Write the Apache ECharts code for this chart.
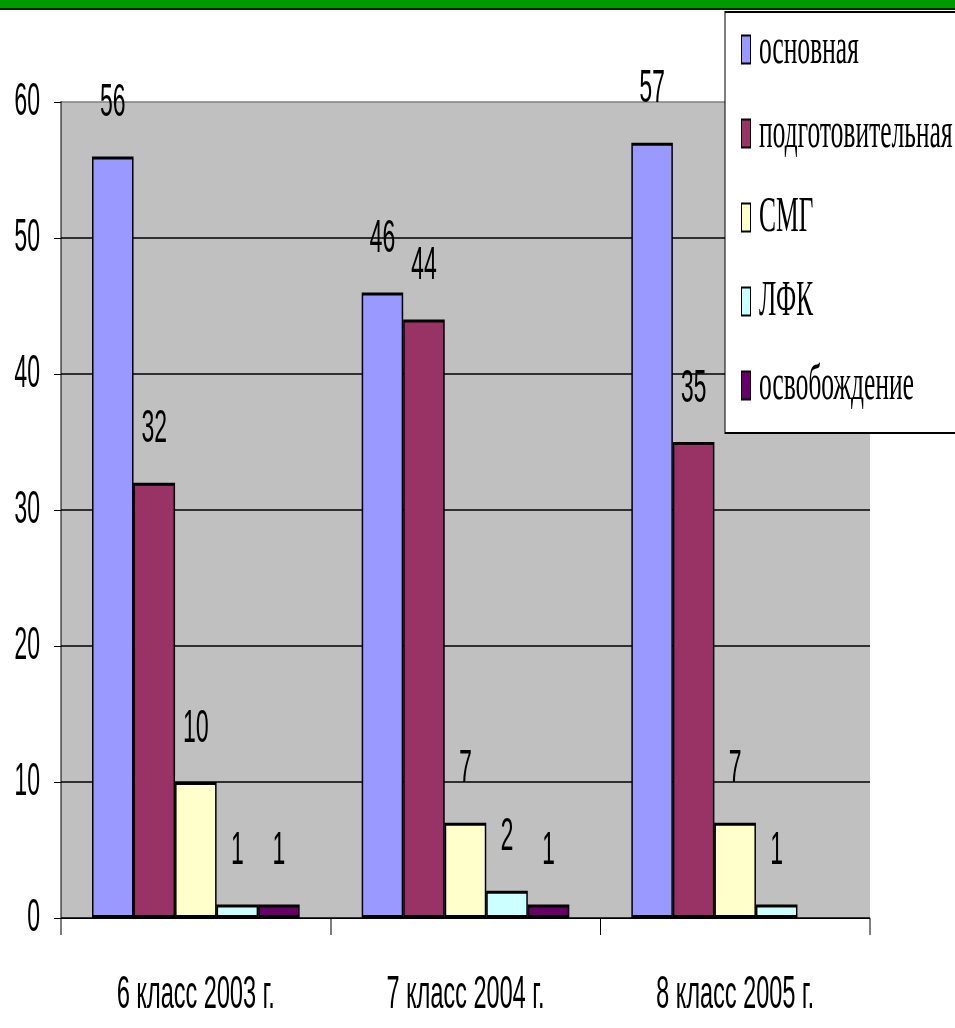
<!DOCTYPE html>
<html>
<head>
<meta charset="utf-8">
<script src="https://cdn.jsdelivr.net/npm/echarts@6/dist/echarts.min.js"></script>
<style>
  html, body { margin: 0; padding: 0; background: #fff; overflow: hidden; }
  #wrap { width: 955px; height: 1028px; overflow: hidden; position: relative; }
  /* the original slide has tall, condensed lettering: draw twice as wide and squeeze */
  #chart { width: 1910px; height: 1028px; transform: scaleX(0.5); transform-origin: 0 0; }
</style>
</head>
<body>
<div id="wrap"><div id="chart"></div></div>
<script>
  // classes / years
  const categories = ['6 класс 2003 г.', '7 класс 2004 г.', '8 класс 2005 г.']

  const seriesNames = ['основная', 'подготовительная', 'СМГ', 'ЛФК', 'освобождение']
  const osnovnaya = [56, 46, 57]
  const podgotovitelnaya = [32, 44, 35]
  const smg = [10, 7, 7]
  const lfk = [1, 2, 1]
  const osvobozhdenie = [1, 1, null]
  const seriesColors = ['#9999FF', '#993366', '#FFFFCC', '#CCFFFF', '#660066']

  const yTicks = [0, 10, 20, 30, 40, 50, 60]

  const sx = 2 // horizontal stretch, undone by the css transform
  const numFont = "'Liberation Sans', Arial, sans-serif"
  const serifFont = "'Liberation Serif', 'Times New Roman', serif"

  const chart = echarts.init(document.getElementById('chart'))

  const values = [osnovnaya, podgotovitelnaya, smg, lfk, osvobozhdenie]

  chart.setOption({
    animation: false,
    backgroundColor: '#fff',
    graphic: [
      { type: 'rect', shape: { x: 0, y: 0, width: 955 * sx, height: 8 }, style: { fill: '#009900' } },
      { type: 'rect', shape: { x: 0, y: 8, width: 955 * sx, height: 2 }, style: { fill: '#1a1a1a' } }
    ],
    grid: {
      left: 61 * sx,
      right: 85 * sx,
      top: 102,
      bottom: 110,
      show: true,
      backgroundColor: '#C0C0C0',
      borderWidth: 0
    },
    legend: {
      orient: 'vertical',
      left: 725 * sx,
      top: 12,
      backgroundColor: '#fff',
      borderColor: '#000',
      borderWidth: 2,
      padding: [12, 80, 22, 16 * sx],
      itemGap: 33,
      itemWidth: 9 * sx,
      itemHeight: 28,
      icon: 'rect',
      textStyle: {
        fontFamily: serifFont,
        fontSize: 51,
        color: '#000',
        padding: [12, 0, 0, 12]
      },
      data: seriesNames
    },
    xAxis: {
      type: 'category',
      data: categories,
      axisLine: { show: true, lineStyle: { color: '#000', width: 1 } },
      axisTick: { show: true, length: 17, lineStyle: { color: '#000', width: 2 } },
      axisLabel: {
        margin: 54,
        fontFamily: numFont,
        fontSize: 47,
        color: '#000'
      }
    },
    yAxis: {
      type: 'value',
      min: yTicks[0],
      max: yTicks[yTicks.length - 1],
      interval: 10,
      axisLine: { show: true, lineStyle: { color: '#000', width: 2 } },
      axisTick: { show: true, length: 7 * sx, lineStyle: { color: '#000' } },
      axisLabel: {
        margin: 21 * sx,
        fontFamily: numFont,
        fontSize: 46,
        color: '#000'
      },
      splitLine: {
        show: true,
        lineStyle: { color: ['#000', '#000', '#000', '#000', '#000', '#000', '#808080'], width: 1.5 }
      }
    },
    series: seriesNames.map(function (name, i) {
      return {
        name: name,
        type: 'bar',
        data: values[i],
        barGap: '0%',
        barCategoryGap: '23%',
        itemStyle: {
          color: seriesColors[i],
          borderColor: '#000',
          borderWidth: 3
        },
        label: {
          show: true,
          position: 'top',
          distance: 30,
          fontFamily: numFont,
          fontSize: 46,
          color: '#000'
        }
      }
    })
  })
</script>
</body>
</html>
